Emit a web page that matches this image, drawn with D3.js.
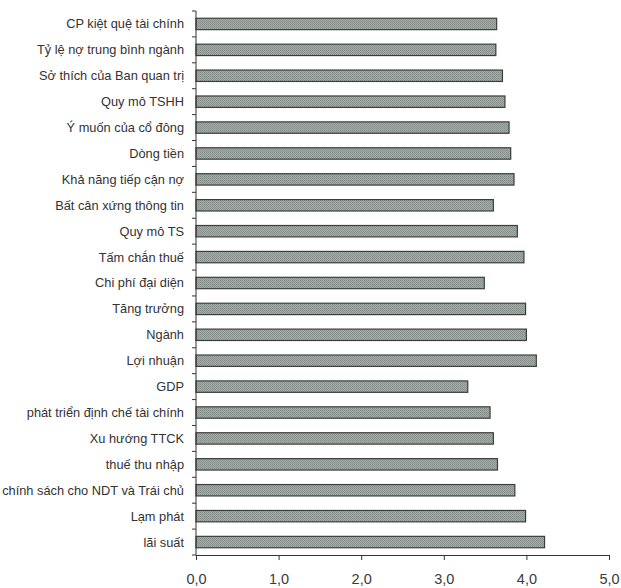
<!DOCTYPE html>
<html>
<head>
<meta charset="utf-8">
<script src="https://cdn.jsdelivr.net/npm/d3@7"></script>
<style>
  body { margin: 0; background: #fff; }
  svg { display: block; }
</style>
</head>
<body>
<svg id="bars" width="621" height="588"></svg>
<script>
// categories top -> bottom
const categories = [
  "CP kiệt quệ tài chính",
  "Tỷ lệ nợ trung bình ngành",
  "Sở thích của Ban quan trị",
  "Quy mô TSHH",
  "Ý muốn của cổ đông",
  "Dòng tiền",
  "Khả năng tiếp cận nợ",
  "Bất cân xứng thông tin",
  "Quy mô TS",
  "Tấm chắn thuế",
  "Chi phí đại diện",
  "Tăng trưởng",
  "Ngành",
  "Lợi nhuận",
  "GDP",
  "phát triển định chế tài chính",
  "Xu hướng TTCK",
  "thuế thu nhập",
  "chính sách cho NDT và Trái chủ",
  "Lạm phát",
  "lãi suất"
];

const values = [3.64, 3.63, 3.71, 3.74, 3.79, 3.81, 3.85, 3.60, 3.89, 3.97, 3.49,
                3.99, 4.00, 4.12, 3.29, 3.56, 3.60, 3.65, 3.86, 3.99, 4.22];

const xTicks = [0, 1, 2, 3, 4, 5];

const data = categories.map((c, i) => ({cat: c, value: values[i]}));

const svg = d3.select("svg#bars");

const margin = {top: 11, left: 196, right: 12, bottom: 33};
const width = 621, height = 588;

const x = d3.scaleLinear()
  .domain([0, 5])
  .range([margin.left, width - margin.right]);

const y = d3.scaleBand()
  .domain(categories)
  .range([margin.top, height - margin.bottom])
  .padding(0);

const barH = y.bandwidth() * 0.44;

// fine dotted texture for the bars
const defs = svg.append("defs");
const pat = defs.append("pattern")
  .attr("id", "dots")
  .attr("width", 2).attr("height", 2)
  .attr("patternUnits", "userSpaceOnUse");
pat.append("rect").attr("width", 2).attr("height", 2).attr("fill", "#a3aca7");
pat.append("rect").attr("width", 1).attr("height", 1).attr("fill", "#858e89");
pat.append("rect").attr("x", 1).attr("y", 1).attr("width", 1).attr("height", 1).attr("fill", "#8c9590");

svg.append("g")
  .selectAll("rect")
  .data(data)
  .join("rect")
  .attr("x", x(0))
  .attr("y", d => y(d.cat) + (y.bandwidth() - barH) / 2)
  .attr("width", d => x(d.value) - x(0))
  .attr("height", barH)
  .style("fill", "url(#dots)")
  .style("stroke", "#3a3f3c")
  .style("stroke-width", 1.2);

// y axis: line with ticks at category boundaries
const yAxis = svg.append("g").attr("class", "y-axis");
yAxis.append("line")
  .attr("x1", x(0)).attr("x2", x(0))
  .attr("y1", y.range()[0]).attr("y2", y.range()[1])
  .attr("stroke", "#333");
const bounds = categories.map(c => y(c)).concat([y.range()[1]]);
yAxis.selectAll("line.tick")
  .data(bounds)
  .join("line")
  .attr("class", "tick")
  .attr("x1", x(0) - 4).attr("x2", x(0))
  .attr("y1", d => d).attr("y2", d => d)
  .attr("stroke", "#333");

yAxis.selectAll("text")
  .data(categories)
  .join("text")
  .attr("x", x(0) - 12)
  .attr("y", d => y(d) + y.bandwidth() / 2)
  .attr("dy", "0.35em")
  .attr("text-anchor", "end")
  .style("font-family", "'Liberation Sans', Arial, sans-serif")
  .style("font-size", "12.8px")
  .style("fill", "#333")
  .text(d => d);

// x axis
const xAxis = svg.append("g")
  .attr("transform", "translate(0," + y.range()[1] + ")")
  .call(d3.axisBottom(x).tickValues(xTicks).tickSize(5).tickPadding(14)
    .tickFormat(d => d3.format(".1f")(d).replace(".", ",")));
xAxis.select(".domain").attr("stroke", "#333");
xAxis.selectAll(".tick line").attr("stroke", "#333");
xAxis.selectAll("text")
  .style("font-family", "'Liberation Sans', Arial, sans-serif")
  .style("font-size", "14.5px")
  .style("fill", "#3a3a3a");
</script>
</body>
</html>
